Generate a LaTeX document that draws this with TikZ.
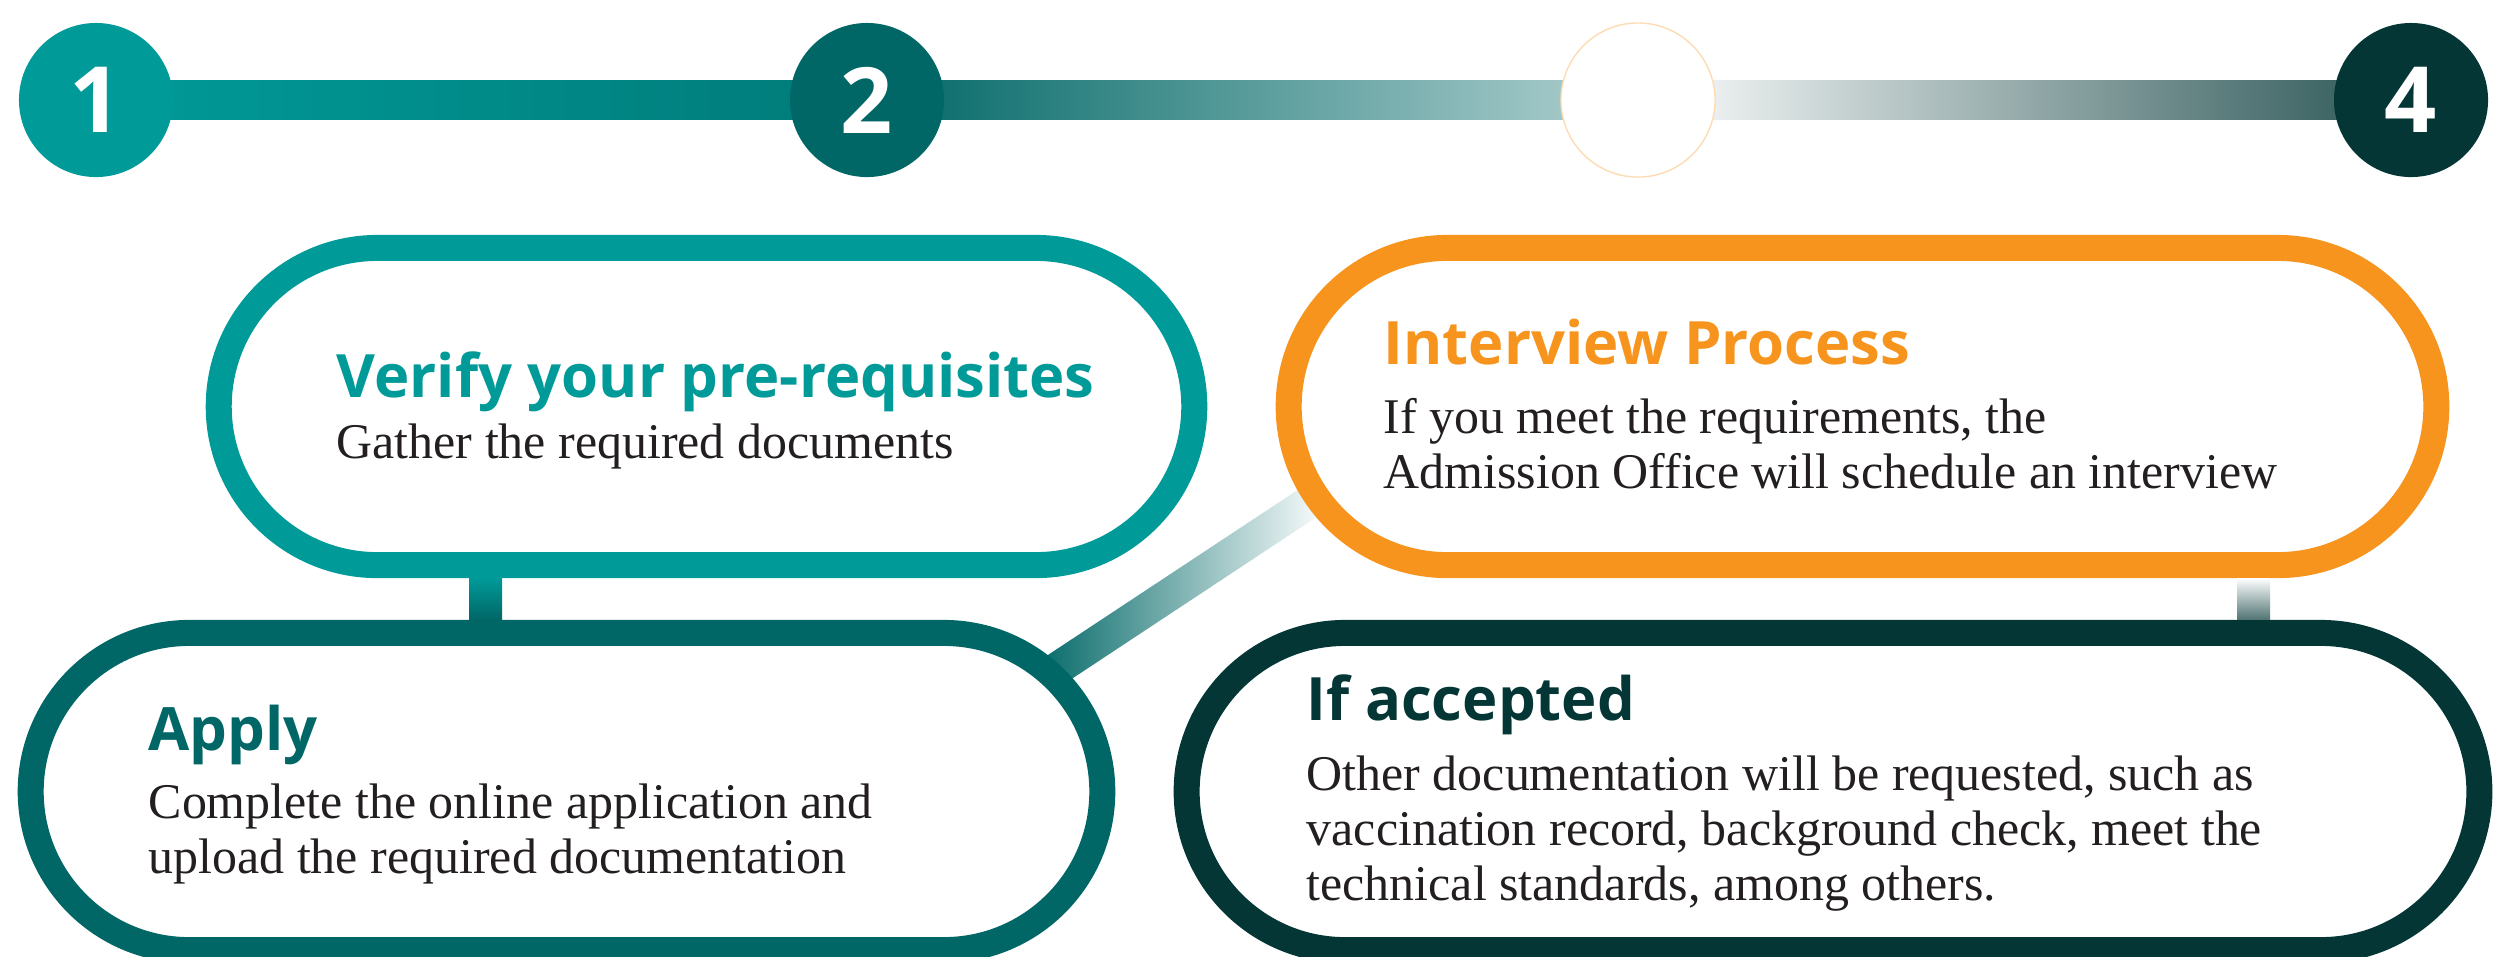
\documentclass[tikz,border=0pt]{standalone}
\usepackage{fontspec}
\setmainfont{Liberation Serif}
\newfontfamily\headfont{Open Sans}
\usetikzlibrary{calc}
\definecolor{Teal}{RGB}{0,154,152}
\definecolor{TealDark}{RGB}{0,103,102}
\definecolor{Amber}{RGB}{247,148,30}
\definecolor{Night}{RGB}{4,54,54}
\definecolor{Peach}{RGB}{253,220,180}
\definecolor{Ink}{RGB}{35,31,32}

\begin{document}
\begin{tikzpicture}[x=0.01cm, y=-0.01cm,
    num/.style={circle, minimum size=1.54cm, inner sep=0pt, text=white,
        font=\headfont\bfseries\fontsize{26pt}{26pt}\selectfont},
    pill/.style={rectangle, rounded corners=1.585cm, line width=0.26cm,
        fill=white, minimum height=3.17cm, inner sep=0pt},
    title/.style={anchor=base west, inner sep=0pt,
        font=\headfont\bfseries\fontsize{17pt}{20pt}\selectfont},
    body/.style={anchor=base west, inner sep=0pt, align=left, text=Ink,
        font=\fontsize{14.2pt}{15.6pt}\selectfont}]

\useasboundingbox (0,0) rectangle (2512,956);

% Timeline bar
\coordinate (p1) at (96,100);
\coordinate (p2) at (867,100);
\coordinate (p3) at (1638,100);
\coordinate (p4) at (2411,100);
\shade[left color=Teal, right color=Teal!80!black] ($(p1)+(0,-19.5)$) rectangle ($(p2)+(0,19.5)$);
\shade[left color=TealDark, right color=TealDark!30] ($(p2)+(0,-19.5)$) rectangle ($(p3)+(0,19.5)$);
\shade[left color=white, right color=Night!85] ($(p3)+(0,-19.5)$) rectangle ($(p4)+(0,19.5)$);

% Step circles
\node[num, fill=Teal] (n1) at (p1) {1};
\node[num, fill=TealDark] (n2) at (p2) {2};
\node[num, fill=white, draw=Peach, line width=0.4pt] (n3) at (p3) {};
\node[num, fill=Night] (n4) at (p4) {4};

% Diagonal link (behind the boxes)
\coordinate (d1) at (1040,680);
\coordinate (d2) at (1320,495);
\shade[left color=TealDark, right color=white]
    ($(d1)+(-9.1,-13.8)$) -- ($(d2)+(-9.1,-13.8)$) -- ($(d2)+(9.1,13.8)$) -- ($(d1)+(9.1,13.8)$) -- cycle;

% Boxes
\node[pill, draw=Teal, minimum width=9.75cm] (verify) at (706.5,406.5) {};
\node[pill, draw=TealDark, minimum width=10.71cm] (apply) at (566.5,791.5) {};
\node[pill, draw=Amber, minimum width=11.47cm] (interview) at (1862.5,406.5) {};
\node[pill, draw=Night, minimum width=12.92cm] (accepted) at (1833,791.5) {};

% Vertical links
\coordinate (c12) at (485.5,0);
\coordinate (c34) at (2253.5,0);
\shade[top color=Teal, bottom color=TealDark]
    ($(c12 |- verify.south)+(-16.5,0)$) rectangle ($(c12 |- apply.north)+(16.5,0)$);
\shade[top color=white, bottom color=Night!70]
    ($(c34 |- interview.south)+(-16.5,0)$) rectangle ($(c34 |- accepted.north)+(16.5,0)$);

% Texts (body nodes sit on the baseline of their last line)
\node[title, text=Teal] (vt) at (336,397) {Verify your pre-requisites};
\node[body] (vb) at (336,458) {Gather the required documents};

\node[title, text=TealDark] (at) at (148,750) {Apply};
\node[body] (ab) at (148,873) {Complete the online application and\\upload the required documentation};

\node[title, text=Amber] (it) at (1383,364) {Interview Process};
\node[body] (ib) at (1383,488) {If you meet the requirements, the\\Admission Office will schedule an interview};

\node[title, text=Night] (et) at (1306,720) {If accepted};
\node[body] (eb) at (1306,900) {Other documentation will be requested, such as\\vaccination record, background check, meet the\\technical standards, among others.};

\end{tikzpicture}
\end{document}
